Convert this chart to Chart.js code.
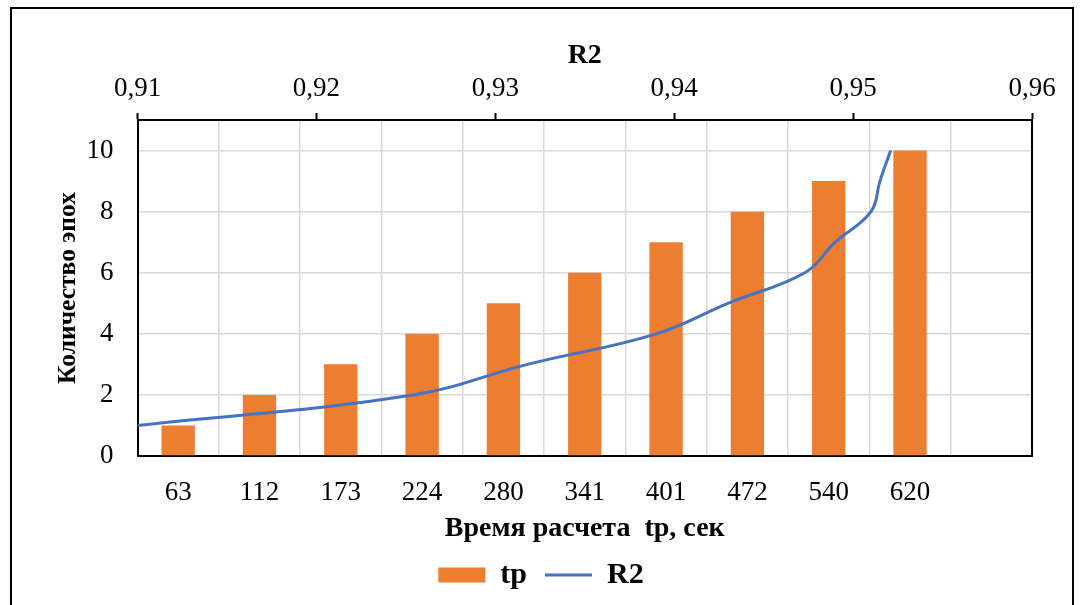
<!DOCTYPE html>
<html>
<head>
<meta charset="utf-8">
<script src="https://cdn.jsdelivr.net/npm/chart.js@4.4.0/dist/chart.umd.min.js"></script>
<style>
  html, body { margin: 0; padding: 0; background: #fff; overflow: hidden; }
  #wrap { position: relative; width: 1082px; height: 605px; }
  #frame { position: absolute; left: 10px; top: 7px; width: 1064px; height: 640px;
           border: 2px solid #000; box-sizing: border-box; pointer-events: none; }
</style>
</head>
<body>
<div id="wrap">
  <canvas id="chart"></canvas>
  <div id="frame"></div>
</div>
<script>
// Categories: calculation time tp, sec (last slot left empty like the original)
const tpLabels = ['63', '112', '173', '224', '280', '341', '401', '472', '540', '620', ''];
// Bar heights: number of epochs
const tpEpochs = [1, 2, 3, 4, 5, 6, 7, 8, 9, 10, null];
// R2 line: R2 value for each epoch count
const r2Values = [0.910, 0.9254, 0.9318, 0.9390, 0.9430, 0.9473, 0.9490, 0.9510, 0.9515, 0.9521];
const r2Epochs = [1, 2, 3, 4, 5, 6, 7, 8, 9, 10];
// Axis ticks
const yTicks = [0, 2, 4, 6, 8, 10];
const r2Min = 0.91, r2Max = 0.96, r2Step = 0.01;

const serif = 'Liberation Serif';
Chart.defaults.color = '#000';
Chart.defaults.font.family = serif;

const gridColor = '#d9d9d9';

new Chart(document.getElementById('chart'), {
    type: 'bar',
    data: {
        labels: tpLabels,
        datasets: [{
            label: 'tp',
            data: tpEpochs,
            backgroundColor: '#ED7D31',
            borderWidth: 0,
            grouped: false,
            barPercentage: 0.41,
            categoryPercentage: 1,
            xAxisID: 'x',
            yAxisID: 'y',
            pointStyle: 'rect',
            order: 1
        }, {
            type: 'line',
            label: 'R2',
            data: r2Values.map((v, i) => ({ x: v, y: r2Epochs[i] })),
            borderColor: '#4472C4',
            backgroundColor: '#4472C4',
            borderWidth: 3,
            pointRadius: 0,
            pointStyle: 'line',
            tension: 0.4,
            fill: false,
            xAxisID: 'x2',
            yAxisID: 'y',
            order: 0
        }]
    },
    options: {
        responsive: true,
        maintainAspectRatio: false,
        animation: false,
        layout: {
            padding: { left: 50, right: 50, top: 37, bottom: 5 }
        },
        plugins: {
            tooltip: { enabled: false },
            legend: {
                position: 'bottom',
                labels: {
                    usePointStyle: true,
                    pointStyleWidth: 47,
                    boxHeight: 15,
                    padding: 18,
                    font: { size: 30, weight: 'bold', family: serif },
                    sort: (a, b) => a.datasetIndex - b.datasetIndex
                }
            }
        },
        scales: {
            x: {
                type: 'category',
                position: 'bottom',
                offset: true,
                afterFit: (s) => { s.height = 86; },
                grid: { offset: true, color: gridColor, lineWidth: 1.5, drawTicks: false },
                border: { color: '#000', width: 2 },
                ticks: { padding: 21, font: { size: 27 }, maxRotation: 0, autoSkip: false },
                title: {
                    display: true,
                    text: 'Время расчета  tp, сек',
                    font: { size: 28, weight: 'bold' },
                    padding: { top: 0, bottom: -4 }
                }
            },
            x2: {
                type: 'linear',
                position: 'top',
                min: r2Min,
                max: r2Max,
                offset: false,
                afterFit: (s) => { s.height = 83; },
                afterBuildTicks: (axis) => {
                    const t = [];
                    for (let i = 0; i <= Math.round((r2Max - r2Min) / r2Step); i++) t.push({ value: r2Min + i * r2Step });
                    axis.ticks = t;
                },
                grid: { offset: false, drawOnChartArea: false, drawTicks: true, tickLength: 7, tickColor: '#000', tickWidth: 2 },
                border: { color: '#000', width: 2 },
                ticks: {
                    padding: 8,
                    font: { size: 27 },
                    callback: (v) => v.toFixed(2).replace('.', ',')
                },
                title: {
                    display: true,
                    text: 'R2',
                    font: { size: 28, weight: 'bold' },
                    padding: { top: 2, bottom: 0 }
                }
            },
            y: {
                min: 0,
                max: 11,
                afterFit: (s) => { s.width = 87.5; },
                afterBuildTicks: (axis) => {
                    axis.ticks = yTicks.map(v => ({ value: v }));
                },
                grid: { color: gridColor, lineWidth: 1.5, drawTicks: false },
                border: { color: '#000', width: 2 },
                ticks: { padding: 24, font: { size: 27 } },
                title: {
                    display: true,
                    text: 'Количество эпох',
                    font: { size: 25.5, weight: 'bold' },
                    padding: { top: 3, bottom: 4 }
                }
            },
            y2: {
                position: 'right',
                min: 0,
                max: 11,
                grid: { drawOnChartArea: false, drawTicks: false },
                border: { color: '#000', width: 2 },
                ticks: { display: false }
            }
        }
    }
});
</script>
</body>
</html>
